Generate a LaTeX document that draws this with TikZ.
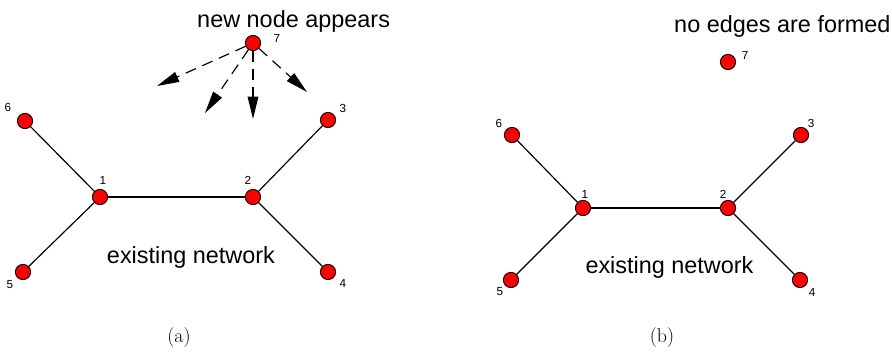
\documentclass[tikz,border=0pt]{standalone}
\usepackage{fontspec}
\newfontfamily\arialsans{Liberation Sans}
\usetikzlibrary{arrows.meta}

\tikzset{
  vertex/.style={circle,draw,fill=red,line width=0.8pt,minimum size=13pt,inner sep=0pt},
  idx/.style={font=\arialsans\fontsize{10}{10}\selectfont,inner sep=0pt},
  caption/.style={font=\arialsans\fontsize{20}{20}\selectfont,inner sep=0pt},
  link/.style={line width=1pt},
  attempt/.style={line width=1pt,dash pattern=on 9.5pt off 6pt,-{Triangle[length=19pt,width=9pt]}},
}

\begin{document}
\begin{tikzpicture}[x=0.03cm,y=-0.03cm]
  \useasboundingbox (0,0) rectangle (892,354);

  % (a): the new node tries to link
  \node[vertex] (a1) at (100,197) {};
  \node[vertex] (a2) at (253,197) {};
  \node[vertex] (a3) at (328,120) {};
  \node[vertex] (a4) at (328,272) {};
  \node[vertex] (a5) at (23,272) {};
  \node[vertex] (a6) at (25,121) {};
  \node[vertex] (a7) at (253,43) {};
  \node[idx] (a1n) at ([shift={(3,-17)}]a1) {1};
  \node[idx] (a2n) at ([shift={(-5,-17)}]a2) {2};
  \node[idx] (a3n) at ([shift={(15,-12)}]a3) {3};
  \node[idx] (a4n) at ([shift={(15,11)}]a4) {4};
  \node[idx] (a5n) at ([shift={(-13,13)}]a5) {5};
  \node[idx] (a6n) at ([shift={(-17,-14)}]a6) {6};
  \node[idx] (a7n) at ([shift={(24,-5)}]a7) {7};
  \draw[link] (a6) -- (a1) -- (a5);
  \draw[link] (a1) -- (a2);
  \draw[link] (a3) -- (a2) -- (a4);
  \coordinate (t1) at (157,86);
  \coordinate (t2) at (205,113);
  \coordinate (t3) at (253,119);
  \coordinate (t4) at (307,92);
  \draw[attempt] (a7) -- (t1);
  \draw[attempt] (a7) -- (t2);
  \draw[attempt] (a7) -- (t3);
  \draw[attempt] (a7) -- (t4);
  \node[caption,anchor=base west] (heada) at (197,27) {new node appears};
  \node[caption,anchor=base] (neta) at (191,263) {existing network};
  \node[font=\fontsize{17}{17}\selectfont] (capa) at (179,338) {(a)};

  % (b): nothing gets connected
  \node[vertex] (b1) at (583,208) {};
  \node[vertex] (b2) at (728,208) {};
  \node[vertex] (b3) at (801,135) {};
  \node[vertex] (b4) at (800,280) {};
  \node[vertex] (b5) at (511,280) {};
  \node[vertex] (b6) at (512,135) {};
  \node[vertex] (b7) at (728,62) {};
  \node[idx] (b1n) at ([shift={(2,-14)}]b1) {1};
  \node[idx] (b2n) at ([shift={(-5,-14)}]b2) {2};
  \node[idx] (b3n) at ([shift={(10,-12)}]b3) {3};
  \node[idx] (b4n) at ([shift={(12,12)}]b4) {4};
  \node[idx] (b5n) at ([shift={(-11,12)}]b5) {5};
  \node[idx] (b6n) at ([shift={(-13,-12)}]b6) {6};
  \node[idx] (b7n) at ([shift={(17,-7)}]b7) {7};
  \draw[link] (b6) -- (b1) -- (b5);
  \draw[link] (b1) -- (b2);
  \draw[link] (b3) -- (b2) -- (b4);
  \node[caption,anchor=base west] (headb) at (674,32) {no edges are formed};
  \node[caption,anchor=base] (netb) at (669.5,273) {existing network};
  \node[font=\fontsize{17}{17}\selectfont] (capb) at (662,338) {(b)};
\end{tikzpicture}
\end{document}
